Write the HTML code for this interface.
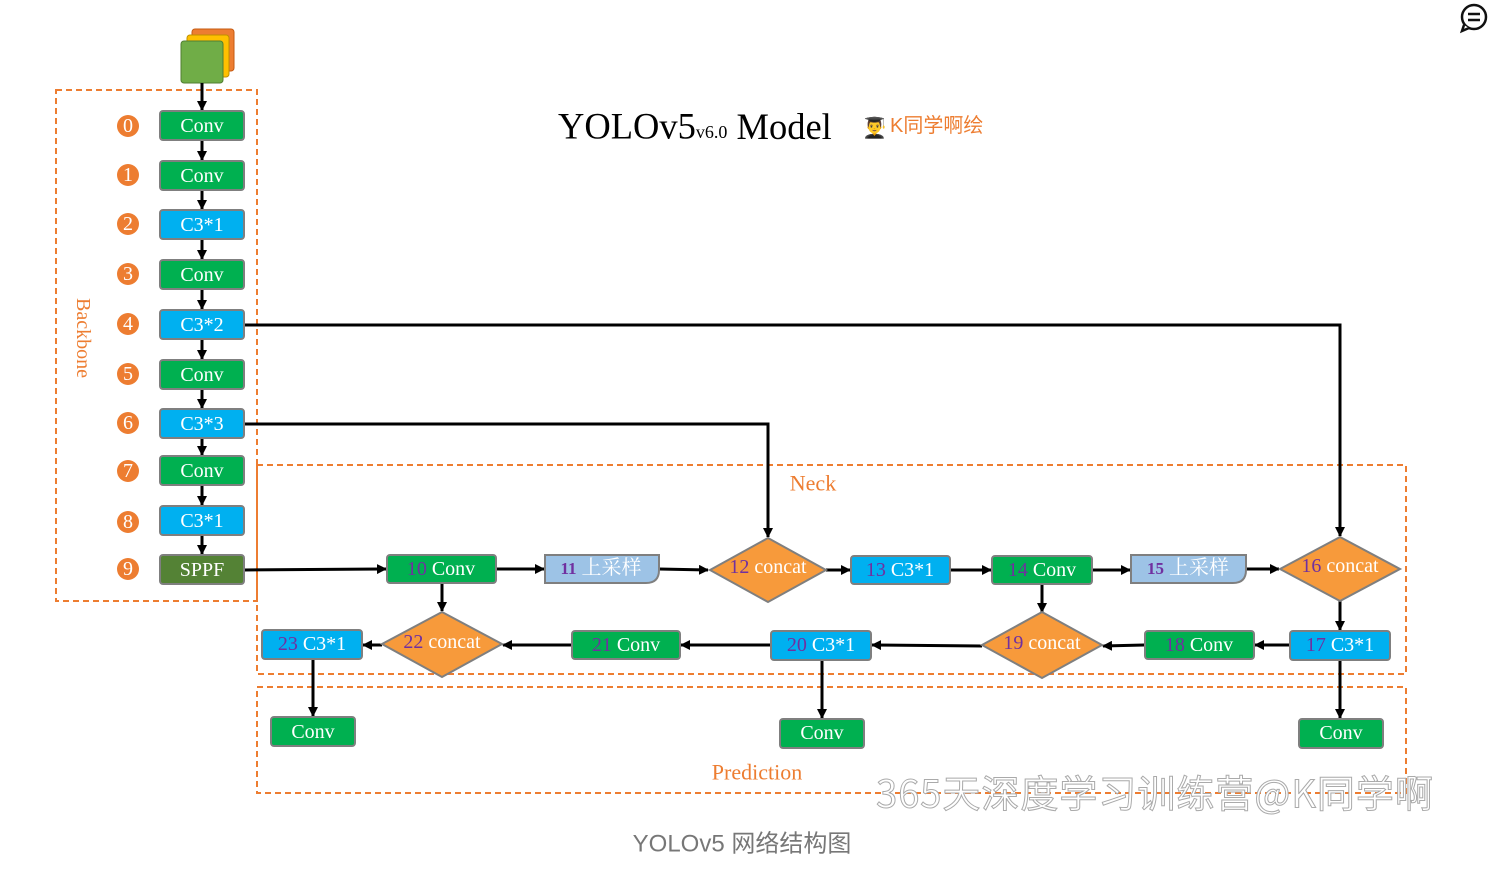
<!DOCTYPE html>
<html><head><meta charset="utf-8"><style>
html,body{margin:0;padding:0;background:#fff;}
svg{display:block;}
.t{font-family:"Liberation Serif","Noto Serif CJK SC",serif;fill:#fff;font-size:20px;text-anchor:middle;dominant-baseline:central;}
.n{fill:#7030a0;}
</style></head><body>
<svg width="1498" height="882" viewBox="0 0 1498 882" xmlns="http://www.w3.org/2000/svg">
<defs>
<marker id="a" markerWidth="10" markerHeight="10" refX="9" refY="5" orient="auto" markerUnits="userSpaceOnUse">
<path d="M0,0 L10,5 L0,10 Z" fill="#000"/></marker>
</defs>
<g fill="none" stroke="#ed7d31" stroke-width="2" stroke-dasharray="6,4">
<rect x="56" y="90" width="201" height="511"/>
<rect x="257" y="465" width="1149" height="209"/>
<rect x="257" y="687" width="1149" height="106"/>
</g>
<text x="83" y="338" transform="rotate(90 83 338)" style="font-family:'Liberation Serif',serif;font-size:20px;fill:#ed7d31;text-anchor:middle;dominant-baseline:central">Backbone</text>
<text x="813" y="483" style="font-family:'Liberation Serif',serif;font-size:22px;fill:#ed7d31;text-anchor:middle;dominant-baseline:central">Neck</text>
<text x="757" y="772" style="font-family:'Liberation Serif',serif;font-size:22px;fill:#ed7d31;text-anchor:middle;dominant-baseline:central">Prediction</text>
<rect x="192" y="29" width="42" height="42" rx="3" fill="#ed7d31" stroke="#c55a11"/>
<rect x="187" y="35" width="42" height="42" rx="3" fill="#ffc000" stroke="#bf9000"/>
<rect x="181" y="41" width="42" height="42" rx="3" fill="#70ad47" stroke="#507e32"/>
<text x="558" y="126" style="font-family:'Liberation Serif',serif;font-size:36.5px;fill:#000;dominant-baseline:central">YOLOv5<tspan font-size="18" dy="6">v6.0</tspan><tspan dy="-6"> Model</tspan></text>
<text x="862" y="126" style="font-size:20px;dominant-baseline:central;font-family:'Noto Sans CJK SC',sans-serif">👨‍🎓</text>
<text x="890" y="126" style="font-family:'Liberation Sans','Noto Sans CJK SC',sans-serif;font-size:20px;fill:#ed7d31;dominant-baseline:central">K同学啊绘</text>
<circle cx="1474" cy="17" r="12" fill="none" stroke="#111" stroke-width="2.5"/>
<path d="M1464 25 L1462 31 L1469 28" fill="#fff" stroke="#111" stroke-width="2.5"/>
<line x1="1468" y1="14" x2="1480" y2="14" stroke="#111" stroke-width="2.5"/>
<line x1="1468" y1="20" x2="1480" y2="20" stroke="#111" stroke-width="2.5"/>
<g stroke="#000" stroke-width="3" marker-end="url(#a)">
<line x1="202" y1="83" x2="202" y2="110"/>
<line x1="202" y1="140" x2="202" y2="160"/>
<line x1="202" y1="190" x2="202" y2="209"/>
<line x1="202" y1="239" x2="202" y2="259"/>
<line x1="202" y1="289" x2="202" y2="309"/>
<line x1="202" y1="339" x2="202" y2="359"/>
<line x1="202" y1="389" x2="202" y2="408"/>
<line x1="202" y1="438" x2="202" y2="455"/>
<line x1="202" y1="485" x2="202" y2="505"/>
<line x1="202" y1="535" x2="202" y2="554"/>
</g>
<g fill="none" stroke="#000" stroke-width="3" marker-end="url(#a)">
<polyline points="244,325 1340,325 1340,536"/>
<polyline points="244,424 768,424 768,537"/>
<line x1="244" y1="570" x2="386" y2="569"/>
<line x1="496" y1="569" x2="544" y2="569"/>
<line x1="659" y1="569" x2="708" y2="570"/>
<line x1="826" y1="570" x2="850" y2="570"/>
<line x1="950" y1="570" x2="991" y2="570"/>
<line x1="1092" y1="570" x2="1130" y2="570"/>
<line x1="1246" y1="569" x2="1279" y2="569"/>
<line x1="1340" y1="601" x2="1340" y2="630"/>
<line x1="1290" y1="645" x2="1255" y2="645"/>
<line x1="1145" y1="645" x2="1103" y2="646"/>
<line x1="1042" y1="584" x2="1042" y2="612"/>
<line x1="982" y1="646" x2="872" y2="645"/>
<line x1="771" y1="645" x2="681" y2="645"/>
<line x1="572" y1="645" x2="503" y2="645"/>
<line x1="442" y1="584" x2="442" y2="611"/>
<line x1="382" y1="645" x2="363" y2="645"/>
<line x1="313" y1="660" x2="313" y2="716"/>
<line x1="822" y1="660" x2="822" y2="718"/>
<line x1="1340" y1="660" x2="1340" y2="718"/>
</g>
<g stroke="#7f7f7f" stroke-width="2">
<rect x="160" y="111" width="84" height="29" rx="3" fill="#00b050"/>
<rect x="160" y="161" width="84" height="29" rx="3" fill="#00b050"/>
<rect x="160" y="210" width="84" height="29" rx="3" fill="#00b0f0"/>
<rect x="160" y="260" width="84" height="29" rx="3" fill="#00b050"/>
<rect x="160" y="310" width="84" height="29" rx="3" fill="#00b0f0"/>
<rect x="160" y="360" width="84" height="29" rx="3" fill="#00b050"/>
<rect x="160" y="409" width="84" height="29" rx="3" fill="#00b0f0"/>
<rect x="160" y="456" width="84" height="29" rx="3" fill="#00b050"/>
<rect x="160" y="506" width="84" height="29" rx="3" fill="#00b0f0"/>
<rect x="160" y="555" width="84" height="29" rx="3" fill="#548235"/>
</g>
<text class="t" x="202" y="126">Conv</text>
<text class="t" x="202" y="176">Conv</text>
<text class="t" x="202" y="225">C3*1</text>
<text class="t" x="202" y="275">Conv</text>
<text class="t" x="202" y="325">C3*2</text>
<text class="t" x="202" y="375">Conv</text>
<text class="t" x="202" y="424">C3*3</text>
<text class="t" x="202" y="471">Conv</text>
<text class="t" x="202" y="521">C3*1</text>
<text class="t" x="202" y="570">SPPF</text>
<g fill="#ed7d31">
<circle cx="128" cy="126" r="11"/><circle cx="128" cy="175" r="11"/><circle cx="128" cy="224" r="11"/>
<circle cx="128" cy="274" r="11"/><circle cx="128" cy="324" r="11"/><circle cx="128" cy="374" r="11"/>
<circle cx="128" cy="423" r="11"/><circle cx="128" cy="471" r="11"/><circle cx="128" cy="522" r="11"/>
<circle cx="128" cy="569" r="11"/>
</g>
<text class="t" x="128" y="126">0</text><text class="t" x="128" y="175">1</text><text class="t" x="128" y="224">2</text>
<text class="t" x="128" y="274">3</text><text class="t" x="128" y="324">4</text><text class="t" x="128" y="374">5</text>
<text class="t" x="128" y="423">6</text><text class="t" x="128" y="471">7</text><text class="t" x="128" y="522">8</text>
<text class="t" x="128" y="569">9</text>
<g stroke="#7f7f7f" stroke-width="2">
<rect x="387" y="555" width="109" height="28" rx="3" fill="#00b050"/>
<path d="M545,555 H659 V570 Q659,583 646,583 H545 Z" fill="#9dc3e6"/>
<polygon points="710,570 768,538 826,570 768,602" fill="#f79a3b"/>
<rect x="851" y="556" width="99" height="28" rx="3" fill="#00b0f0"/>
<rect x="992" y="556" width="100" height="28" rx="3" fill="#00b050"/>
<path d="M1131,555 H1246 V570 Q1246,583 1233,583 H1131 Z" fill="#9dc3e6"/>
<polygon points="1280,569 1340,537 1400,569 1340,601" fill="#f79a3b"/>
<rect x="262" y="630" width="100" height="29" rx="3" fill="#00b0f0"/>
<polygon points="382,644 442,612 502,644 442,677" fill="#f79a3b"/>
<rect x="572" y="631" width="108" height="28" rx="3" fill="#00b050"/>
<rect x="771" y="631" width="100" height="29" rx="3" fill="#00b0f0"/>
<polygon points="982,645 1042,612 1102,645 1042,678" fill="#f79a3b"/>
<rect x="1145" y="631" width="109" height="28" rx="3" fill="#00b050"/>
<rect x="1290" y="631" width="100" height="29" rx="3" fill="#00b0f0"/>
<rect x="271" y="717" width="84" height="29" rx="3" fill="#00b050"/>
<rect x="780" y="719" width="84" height="29" rx="3" fill="#00b050"/>
<rect x="1299" y="719" width="84" height="29" rx="3" fill="#00b050"/>
</g>
<text class="t" x="441" y="569"><tspan class="n">10</tspan> Conv</text>
<text class="t" x="601" y="568"><tspan class="n" font-weight="bold" font-size="17">11</tspan> 上采样</text>
<text class="t" x="768" y="567"><tspan class="n">12</tspan> concat</text>
<text class="t" x="900" y="570"><tspan class="n">13</tspan> C3*1</text>
<text class="t" x="1042" y="570"><tspan class="n">14</tspan> Conv</text>
<text class="t" x="1188" y="568"><tspan class="n" font-weight="bold" font-size="17">15</tspan> 上采样</text>
<text class="t" x="1340" y="566"><tspan class="n">16</tspan> concat</text>
<text class="t" x="312" y="644"><tspan class="n">23</tspan> C3*1</text>
<text class="t" x="442" y="642"><tspan class="n">22</tspan> concat</text>
<text class="t" x="626" y="645"><tspan class="n">21</tspan> Conv</text>
<text class="t" x="821" y="645"><tspan class="n">20</tspan> C3*1</text>
<text class="t" x="1042" y="643"><tspan class="n">19</tspan> concat</text>
<text class="t" x="1199" y="645"><tspan class="n">18</tspan> Conv</text>
<text class="t" x="1340" y="645"><tspan class="n">17</tspan> C3*1</text>
<text class="t" x="313" y="732">Conv</text>
<text class="t" x="822" y="733">Conv</text>
<text class="t" x="1341" y="733">Conv</text>
<text x="1155" y="791" style="font-family:'Noto Sans CJK SC',sans-serif;font-size:38px;letter-spacing:1px;fill:#fff;stroke:#aaa;stroke-width:1;text-anchor:middle;dominant-baseline:central">365天深度学习训练营@K同学啊</text>
<text x="742" y="844" style="font-family:'Liberation Sans','Noto Sans CJK SC',sans-serif;font-size:24px;fill:#777;text-anchor:middle;dominant-baseline:central">YOLOv5 网络结构图</text>
</svg>
</body></html>
